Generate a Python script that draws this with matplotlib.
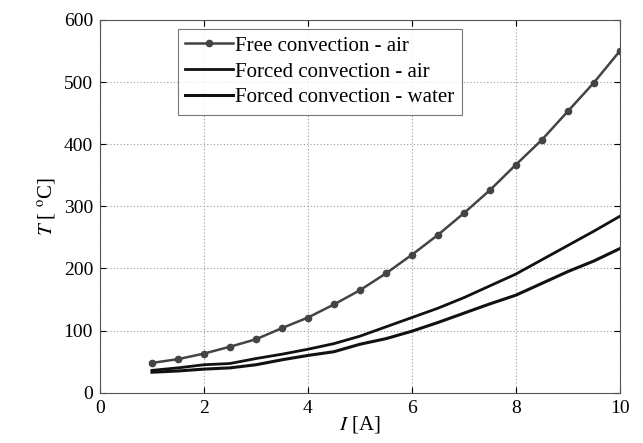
import matplotlib
matplotlib.use('Agg')
import matplotlib.pyplot as plt

plt.rcParams['font.family'] = 'Liberation Serif'
plt.rcParams['mathtext.fontset'] = 'stix'

# current in A
current = [1, 1.5, 2, 2.5, 3, 3.5, 4, 4.5, 5, 5.5, 6, 6.5, 7, 7.5, 8, 8.5, 9, 9.5, 10]

# temperature in deg C
free_air = [48, 54, 63, 74, 86, 104, 121, 142, 165, 192, 222, 254, 289, 326,
            367, 407, 453, 499, 550]
forced_air = [36, 40, 45, 47, 55, 62, 70, 79, 91, 106, 121, 136, 153, 172,
              191, 214, 237, 260, 284]
forced_water = [33, 35, 38, 40, 45, 53, 60, 66, 78, 87, 99, 113, 128, 143,
                157, 176, 195, 212, 232]

fig = plt.figure(figsize=(6.43, 4.43), dpi=100)
ax = fig.add_axes([0.1555, 0.1135, 0.8085, 0.8415])

ax.plot(current, free_air, color='#444444', lw=1.8, marker='o', ms=4.5,
        label='Free convection - air')
ax.plot(current, forced_air, color='#111111', lw=2, label='Forced convection - air')
ax.plot(current, forced_water, color='#111111', lw=2.2, label='Forced convection - water')

ax.set_xlim(0, 10)
ax.set_ylim(0, 600)
ax.set_xticks([0, 2, 4, 6, 8, 10])
ax.set_yticks([0, 100, 200, 300, 400, 500, 600])
ax.tick_params(direction='in', labelsize=14, length=4, pad=5, top=True, right=True)
ax.grid(True, linestyle=(0, (1, 2)), color='#999999', linewidth=0.8)
for s in ax.spines.values():
    s.set_color('#555555')

ax.set_xlabel(r'$I$ [A]', fontsize=15, labelpad=-2)
ax.set_ylabel(r'$T$ [ $^{\rm o}$C]', fontsize=15, labelpad=4)

leg = ax.legend(loc='upper left', bbox_to_anchor=(0.15, 0.976), borderaxespad=0,
                fontsize=15, frameon=True, fancybox=False, edgecolor='#555555',
                handlelength=2.3, borderpad=0.35, labelspacing=0.3, handletextpad=0.1)
leg.get_frame().set_linewidth(0.8)

fig.savefig('out.png', dpi=100)
